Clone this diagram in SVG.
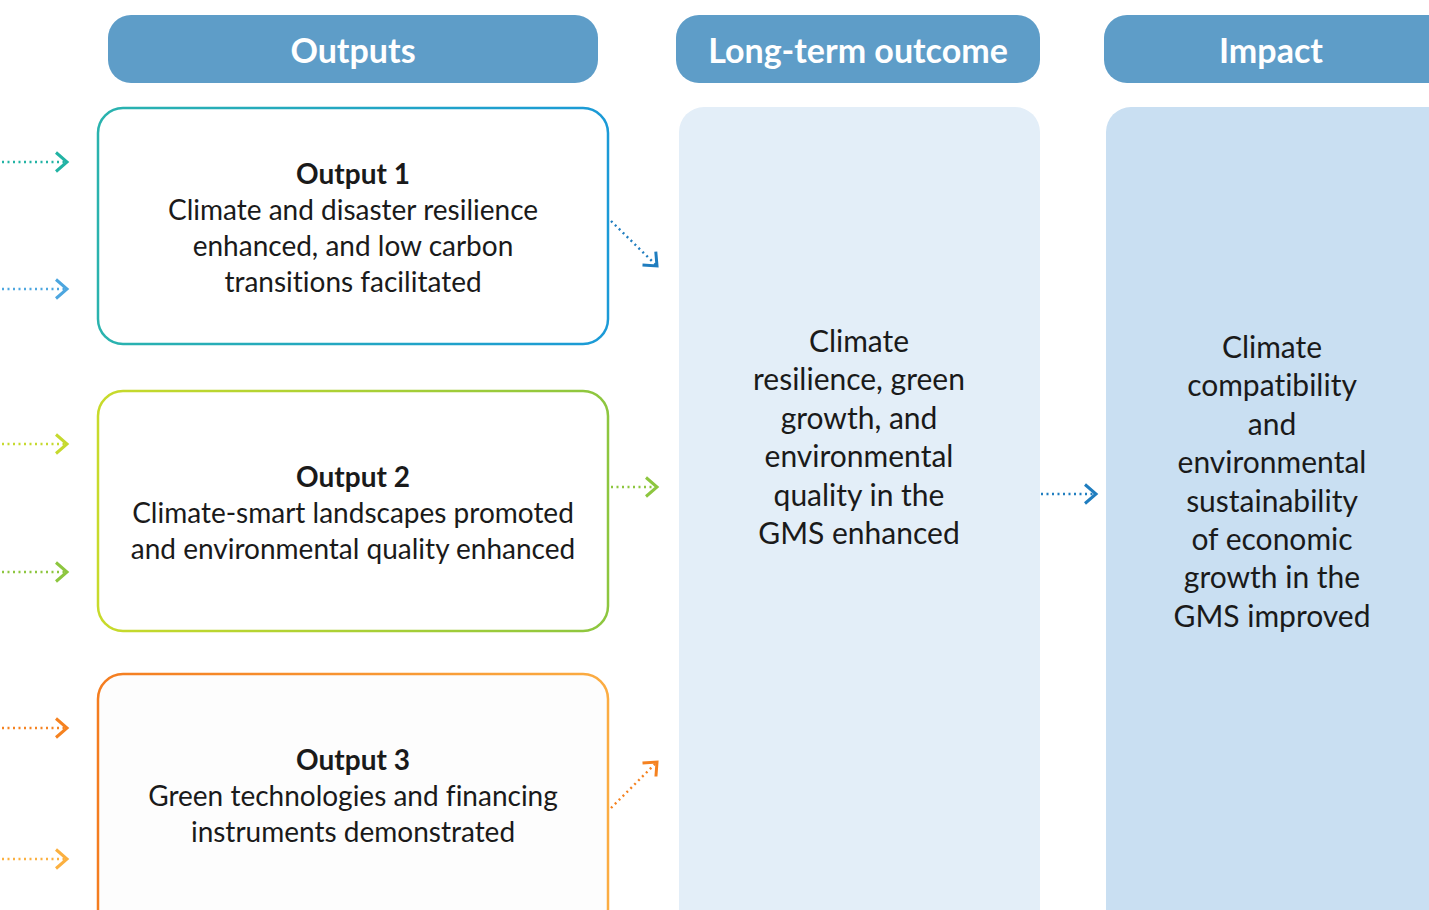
<svg xmlns="http://www.w3.org/2000/svg" width="1429" height="910" viewBox="0 0 1429 910">
<style>
.hdr{fill:#5e9dc8}
.hdrt{font-family:Lato,"Open Sans",sans-serif;font-weight:bold;font-size:34px;fill:#ffffff;text-anchor:middle}
.body{font-family:Lato,"Liberation Sans",sans-serif;font-size:28px;fill:#1a1a1a;text-anchor:middle;font-variant-ligatures:none}
.ttl{font-weight:bold}
.big{font-family:Lato,"Liberation Sans",sans-serif;font-size:30px;fill:#1a1a1a;text-anchor:middle;font-variant-ligatures:none}
.box{stroke-width:2.5}
.con{fill:none;stroke-width:2.4;stroke-dasharray:2 3.5}
</style>
<defs>
<linearGradient id="g1" x1="0" y1="0" x2="1" y2="0"><stop offset="0" stop-color="#2ab3ae"/><stop offset="1" stop-color="#1b9ad7"/></linearGradient>
<linearGradient id="g2" x1="0" y1="0" x2="1" y2="0"><stop offset="0" stop-color="#c8da2b"/><stop offset="1" stop-color="#8dc63f"/></linearGradient>
<linearGradient id="g3" x1="0" y1="0" x2="1" y2="0"><stop offset="0" stop-color="#f47d20"/><stop offset="1" stop-color="#fbac42"/></linearGradient>
<marker id="mTeal" markerUnits="userSpaceOnUse" viewBox="-14 -12 16 24" refX="0" refY="0" markerWidth="16" markerHeight="24" orient="auto" overflow="visible"><path d="M-11,-9.5 L0,0 L-11,9.5" fill="none" stroke="#22b3a4" stroke-width="3"/></marker>
<marker id="mSky" markerUnits="userSpaceOnUse" viewBox="-14 -12 16 24" refX="0" refY="0" markerWidth="16" markerHeight="24" orient="auto" overflow="visible"><path d="M-11,-9.5 L0,0 L-11,9.5" fill="none" stroke="#4da6df" stroke-width="3"/></marker>
<marker id="mLime" markerUnits="userSpaceOnUse" viewBox="-14 -12 16 24" refX="0" refY="0" markerWidth="16" markerHeight="24" orient="auto" overflow="visible"><path d="M-11,-9.5 L0,0 L-11,9.5" fill="none" stroke="#c6d92e" stroke-width="3"/></marker>
<marker id="mGreen" markerUnits="userSpaceOnUse" viewBox="-14 -12 16 24" refX="0" refY="0" markerWidth="16" markerHeight="24" orient="auto" overflow="visible"><path d="M-11,-9.5 L0,0 L-11,9.5" fill="none" stroke="#8dc63f" stroke-width="3"/></marker>
<marker id="mOrange" markerUnits="userSpaceOnUse" viewBox="-14 -12 16 24" refX="0" refY="0" markerWidth="16" markerHeight="24" orient="auto" overflow="visible"><path d="M-11,-9.5 L0,0 L-11,9.5" fill="none" stroke="#f58220" stroke-width="3"/></marker>
<marker id="mLOrange" markerUnits="userSpaceOnUse" viewBox="-14 -12 16 24" refX="0" refY="0" markerWidth="16" markerHeight="24" orient="auto" overflow="visible"><path d="M-11,-9.5 L0,0 L-11,9.5" fill="none" stroke="#fbb040" stroke-width="3"/></marker>
<marker id="mBlue" markerUnits="userSpaceOnUse" viewBox="-14 -12 16 24" refX="0" refY="0" markerWidth="16" markerHeight="24" orient="auto" overflow="visible"><path d="M-11,-9.5 L0,0 L-11,9.5" fill="none" stroke="#1f7dbf" stroke-width="3"/></marker>
</defs>
<rect width="1429" height="910" fill="#ffffff"/>

<g id="header-outputs"><rect class="hdr" x="108" y="15" width="490" height="68" rx="23"/><text class="hdrt" x="353" y="63">Outputs</text></g>
<g id="header-longterm"><rect class="hdr" x="676" y="15" width="364" height="68" rx="23"/><text class="hdrt" x="858" y="63">Long-term outcome</text></g>
<g id="header-impact"><rect class="hdr" x="1104" y="15" width="350" height="68" rx="23"/><text class="hdrt" x="1271" y="63">Impact</text></g>

<g id="output1"><rect class="box" x="98" y="108" width="510" height="236" rx="25" fill="#ffffff" stroke="url(#g1)"/>
<text class="body" x="353" y="184"><tspan class="ttl" x="353">Output 1</tspan><tspan x="353" dy="36">Climate and disaster resilience</tspan><tspan x="353" dy="36">enhanced, and low carbon</tspan><tspan x="353" dy="36">transitions facilitated</tspan></text></g>

<g id="output2"><rect class="box" x="98" y="391" width="510" height="240" rx="25" fill="#ffffff" stroke="url(#g2)"/>
<text class="body" x="353" y="487"><tspan class="ttl" x="353">Output 2</tspan><tspan x="353" dy="36">Climate-smart landscapes promoted</tspan><tspan x="353" dy="36">and environmental quality enhanced</tspan></text></g>

<g id="output3"><rect class="box" x="98" y="674" width="510" height="260" rx="25" fill="#fdfdfd" stroke="url(#g3)"/>
<text class="body" x="353" y="770"><tspan class="ttl" x="353">Output 3</tspan><tspan x="353" dy="36">Green technologies and financing</tspan><tspan x="353" dy="36">instruments demonstrated</tspan></text></g>

<g id="longterm"><rect x="679" y="107" width="361" height="830" rx="25" fill="#e3eef8"/>
<text class="big" x="859" y="352"><tspan x="859">Climate</tspan><tspan x="859" dy="38.4">resilience, green</tspan><tspan x="859" dy="38.4">growth, and</tspan><tspan x="859" dy="38.4">environmental</tspan><tspan x="859" dy="38.4">quality in the</tspan><tspan x="859" dy="38.4">GMS enhanced</tspan></text></g>

<g id="impact"><rect x="1106" y="107" width="360" height="830" rx="25" fill="#c9dff2"/>
<text class="big" x="1272" y="358"><tspan x="1272">Climate</tspan><tspan x="1272" dy="38.4">compatibility</tspan><tspan x="1272" dy="38.4">and</tspan><tspan x="1272" dy="38.4">environmental</tspan><tspan x="1272" dy="38.4">sustainability</tspan><tspan x="1272" dy="38.4">of economic</tspan><tspan x="1272" dy="38.4">growth in the</tspan><tspan x="1272" dy="38.4">GMS improved</tspan></text></g>

<g id="connectors">
<path class="con" d="M2,162 L67,162" stroke="#22b3a4" marker-end="url(#mTeal)"/>
<path class="con" d="M2,289 L67,289" stroke="#4da6df" marker-end="url(#mSky)"/>
<path class="con" d="M2,444 L67,444" stroke="#c6d92e" marker-end="url(#mLime)"/>
<path class="con" d="M2,572 L67,572" stroke="#8dc63f" marker-end="url(#mGreen)"/>
<path class="con" d="M2,728 L67,728" stroke="#f58220" marker-end="url(#mOrange)"/>
<path class="con" d="M2,859 L67,859" stroke="#fbb040" marker-end="url(#mLOrange)"/>
<path class="con" d="M611,221 L657,266" stroke="#1f7dbf" marker-end="url(#mBlue)"/>
<path class="con" d="M611,487 L657,487" stroke="#8dc63f" marker-end="url(#mGreen)"/>
<path class="con" d="M611,808 L657,762" stroke="#f58220" marker-end="url(#mOrange)"/>
<path class="con" d="M1041,494 L1096,494" stroke="#1f7dbf" marker-end="url(#mBlue)"/>
</g>
</svg>
